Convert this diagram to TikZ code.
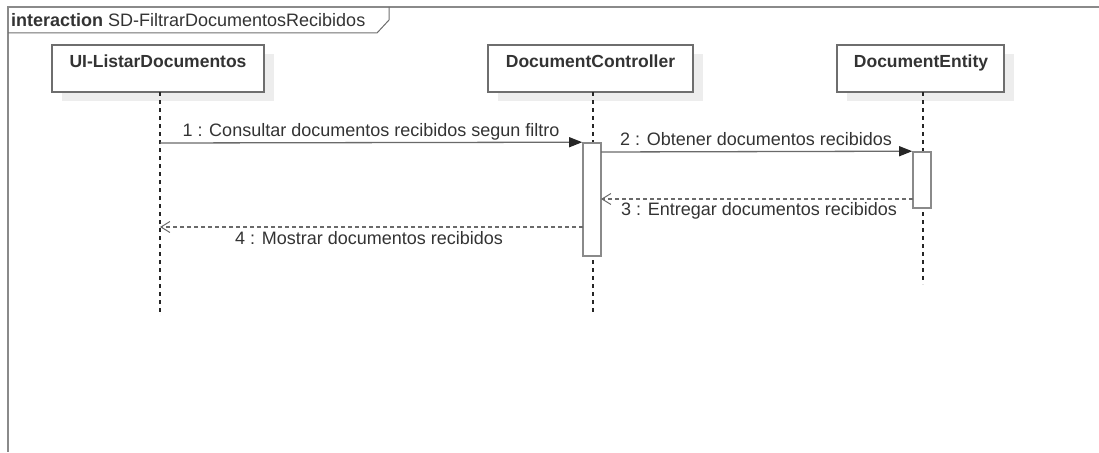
\documentclass[tikz,border=0pt]{standalone}
\usepackage{fontspec}
\setmainfont{Liberation Sans}
\usetikzlibrary{arrows.meta,calc}
\definecolor{frameclr}{HTML}{8A8A8A}
\definecolor{boxclr}{HTML}{6E6E6E}
\definecolor{lineclr}{HTML}{6A6A6A}
\definecolor{txtclr}{HTML}{333333}
\definecolor{shadowclr}{HTML}{EDEDED}
\tikzset{
  head/.style={draw=boxclr, line width=1.4pt, fill=white, minimum width=#1, minimum height=47pt, inner sep=0pt},
  headshadow/.style={fill=shadowclr, draw=none, minimum width=#1, minimum height=47pt, inner sep=0pt},
  headtitle/.style={font=\bfseries\fontsize{17.5}{20}\selectfont, text=txtclr, inner sep=0pt},
  lifeline/.style={draw=black!85, line width=1.2pt, dash pattern=on 4pt off 4pt},
  actbar/.style={draw=frameclr, line width=1.6pt, fill=white, minimum width=18pt, inner sep=0pt},
  sync/.style={draw=lineclr, line width=1.3pt, -{Triangle[length=13pt,width=10pt,color=black!85,fill=black!85]}},
  reply/.style={draw=lineclr, line width=1.1pt, dash pattern=on 4pt off 3pt, -{Straight Barb[length=9pt,width=11pt,line width=1pt]}},
  msg/.style={font=\fontsize{18}{20}\selectfont, text=txtclr, inner sep=0pt},
}
\begin{document}
\begin{tikzpicture}[x=1pt,y=-1pt]
\useasboundingbox (0,0) rectangle (1099,452);

% interaction frame with its name tab
\draw[frameclr, line width=2pt] (1099,7) -- (8,7) -- (8,452);
\draw[boxclr, line width=1pt] (8,33) -- (377,33) -- (389,20) -- (389,7);
\node[anchor=base west, inner sep=0pt, text=txtclr, font=\fontsize{18}{20}\selectfont] (title) at (11,27)
  {\textbf{interaction} SD-FiltrarDocumentosRecibidos};

% lifeline heads (shadow first, then box)
\node[headshadow=212pt] (uiS) at (168,77.5) {};
\node[head=212pt] (ui) at (158,68.5) {};
\node[headtitle, anchor=base] (uiT) at (158,67) {UI-ListarDocumentos};

\node[headshadow=205pt] (dcS) at (600.5,77.5) {};
\node[head=205pt] (dc) at (590.5,68.5) {};
\node[headtitle, anchor=base] (dcT) at (590.5,67) {DocumentController};

\node[headshadow=167pt] (deS) at (930.5,77.5) {};
\node[head=167pt] (de) at (920.5,68.5) {};
\node[headtitle, anchor=base] (deT) at (921,67) {DocumentEntity};

% lifelines
\coordinate (uiTop) at (160,92);
\coordinate (uiEnd) at (160,312);
\coordinate (dcTop) at (593,92);
\coordinate (dcEnd) at (593,312);
\coordinate (deTop) at (923,92);
\coordinate (deEnd) at (923,284);
\draw[lifeline] (uiTop) -- (uiEnd);
\draw[lifeline] (dcTop) -- (dcEnd);
\draw[lifeline] (deTop) -- (deEnd);

% activation bars
\node[actbar, minimum height=113pt] (actC) at (592,199.5) {};
\node[actbar, minimum height=56pt] (actE) at (922,180) {};

% messages
\coordinate (m1) at (160,143);
\draw[sync] (m1) -- (actC.north west);
\node[msg, anchor=base] (l1) at (371,136) {1 : Consultar documentos recibidos segun filtro};

\coordinate (m2) at (601,152);
\draw[sync] (m2) -- (actE.north west);
\node[msg, anchor=base] (l2) at (756,145) {2 : Obtener documentos recibidos};

\coordinate (m3s) at (913,199);
\coordinate (m3e) at (601,199);
\draw[reply] (m3s) -- (m3e);
\node[msg, anchor=base] (l3) at (759,215) {3 : Entregar documentos recibidos};

\coordinate (m4s) at (583,227);
\coordinate (m4e) at (160,227);
\draw[reply] (m4s) -- (m4e);
\node[msg, anchor=base] (l4) at (369,244) {4 : Mostrar documentos recibidos};
\end{tikzpicture}
\end{document}
